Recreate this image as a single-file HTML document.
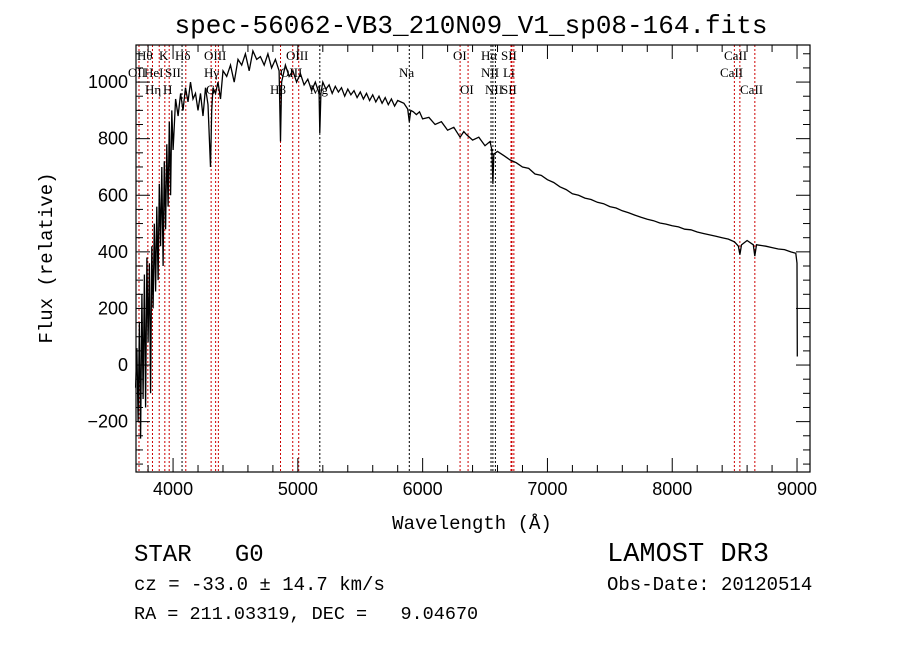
<!DOCTYPE html>
<html><head><meta charset="utf-8"><style>
body{margin:0;background:#fff;width:900px;height:649px;overflow:hidden}
svg text{font-family:"Liberation Serif",serif;white-space:pre}
</style></head><body>
<svg id="c" width="900" height="649" xmlns="http://www.w3.org/2000/svg" xml:space="preserve">
<text x="471" y="33" text-anchor="middle" font-size="26" style="font-family:'Liberation Mono',monospace">spec-56062-VB3_210N09_V1_sp08-164.fits</text>
<text x="52" y="258" text-anchor="middle" font-size="19" transform="rotate(-90 52 258)" style="font-family:'Liberation Mono',monospace">Flux (relative)</text>
<text x="472" y="529" text-anchor="middle" font-size="19" style="font-family:'Liberation Mono',monospace">Wavelength (Å)</text>
<g id="lines"></g><g id="spec"></g><g id="axes"></g>
<text x="134" y="561" font-size="24" style="font-family:'Liberation Mono',monospace">STAR   G0</text>
<text x="134" y="590" font-size="19" style="font-family:'Liberation Mono',monospace">cz = -33.0 ± 14.7 km/s</text>
<text x="134" y="619" font-size="18.5" style="font-family:'Liberation Mono',monospace">RA = 211.03319, DEC =   9.04670</text>
<text x="607" y="561" font-size="27" style="font-family:'Liberation Mono',monospace">LAMOST DR3</text>
<text x="607" y="590" font-size="19" style="font-family:'Liberation Mono',monospace">Obs-Date: 20120514</text>
</svg>
<script>
const wave=[3700,3710,3720,3730,3740,3750,3760,3770,3780,3790,3800,3810,3820,3830,3840,3850,3860,3870,3880,3890,3900,3910,3920,3930,3940,3950,3960,3970,3980,3990,4000,4020,4040,4060,4080,4100,4120,4140,4160,4180,4200,4220,4240,4260,4280,4300,4310,4320,4340,4360,4380,4400,4430,4460,4490,4520,4550,4580,4610,4640,4670,4700,4730,4760,4790,4820,4850,4861,4870,4900,4930,4960,4990,5020,5050,5080,5110,5140,5170,5176,5185,5200,5225,5250,5275,5300,5325,5350,5375,5400,5425,5450,5475,5500,5525,5550,5575,5600,5625,5650,5675,5700,5725,5750,5775,5800,5850,5880,5893,5905,5925,5950,5975,6000,6050,6100,6150,6200,6250,6300,6330,6350,6400,6450,6500,6540,6555,6563,6570,6600,6650,6700,6750,6800,6850,6900,6950,7000,7050,7100,7150,7200,7250,7300,7350,7400,7450,7500,7550,7600,7650,7700,7750,7800,7850,7900,7950,8000,8050,8100,8150,8200,8250,8300,8350,8400,8450,8500,8530,8542,8555,8600,8650,8662,8675,8750,8800,8850,8900,8950,8990,9000,9002];
const flux=[-80,60,-200,150,-260,250,-120,320,-150,380,80,360,-100,420,200,500,260,560,300,640,420,700,350,720,480,780,560,860,600,900,760,940,880,960,900,980,930,1000,940,960,900,960,880,980,920,700,900,980,960,1000,940,1040,1020,1060,1000,1080,1060,1100,1040,1110,1080,1090,1060,1100,1050,1080,1040,790,1000,1060,1020,1040,1000,1030,990,1010,970,1000,960,820,960,1000,975,990,960,985,965,980,950,975,955,970,945,965,940,960,935,955,930,950,925,945,920,940,915,935,925,905,860,900,895,885,895,870,875,850,860,830,840,805,825,815,795,805,775,790,760,640,745,755,740,725,715,700,695,675,670,655,645,630,620,605,600,590,585,575,570,560,555,545,538,530,522,515,510,502,498,492,488,480,478,470,465,460,455,450,445,435,420,390,425,440,425,385,425,420,415,410,408,400,395,360,30];
const lineWave=[3727,3798,3835,3889,3934,3969,4072,4102,4305,4341,4363,4861,4959,5007,5176,5893,6300,6364,6548,6563,6583,6708,6716,6731,8498,8542,8662];
const lineBlack=[0,0,0,0,0,0,1,0,0,0,0,0,0,0,1,1,0,0,1,1,1,0,0,0,0,0,0];
const lineLabels=[["OII",128,77],["Hθ",137,60],["Hη",145,94],["HeI",144,77],["K",159,60],["H",163,94],["SII",165,77],["Hδ",175,60],["G",206,94],["Hγ",204,77],["OIII",204,60],["Hβ",270,94],["OIII",286,60],["OIII",280,77],["Mg",310,94],["Na",399,77],["OI",453,60],["OI",460,94],["NII",481,77],["Hα",481,60],["NII",485,94],["Li",503,77],["SII",501,60],["SII",501,94],["CaII",724,60],["CaII",720,77],["CaII",740,94]];
const yTicks=[-200,0,200,400,600,800,1000];
const xTicks=[4000,5000,6000,7000,8000,9000];
const L=136,R=810,T=45,B=472,X0=3703,X1=9104,Y0=-378,Y1=1131;
const sx=w=>L+(w-X0)/(X1-X0)*(R-L);
const sy=f=>B-(f-Y0)/(Y1-Y0)*(B-T);
const NS="http://www.w3.org/2000/svg";
function mk(tag,at,par){const e=document.createElementNS(NS,tag);for(const k in at)e.setAttribute(k,at[k]);document.getElementById(par).appendChild(e);return e;}
lineWave.forEach((w,i)=>{const e=mk("line",{x1:sx(w),x2:sx(w),y1:T,y2:B,stroke:lineBlack[i]?"#000":"#c00","stroke-width":1,"stroke-dasharray":"2,2"},"lines");

});
lineLabels.forEach(l=>{const t=mk("text",{x:l[1],y:l[2],"font-size":13},"lines");t.textContent=l[0];

});
let d="";wave.forEach((w,i)=>{const y=Math.max(T,Math.min(B,sy(flux[i])));d+=(i?"L":"M")+sx(w).toFixed(1)+","+y.toFixed(1);});
const p=mk("path",{d:d,fill:"none",stroke:"#000","stroke-width":1.3},"spec");


const fr=mk("rect",{x:L,y:T,width:R-L,height:B-T,fill:"none",stroke:"#000","stroke-width":1.2},"axes");


for(let w=3800;w<=9100;w+=200){const big=w%1000===0;const x=sx(w);
mk("line",{x1:x,x2:x,y1:B,y2:B-(big?14:7),stroke:"#000"},"axes");mk("line",{x1:x,x2:x,y1:T,y2:T+(big?14:7),stroke:"#000"},"axes");}
for(let f=-350;f<=1100;f+=50){const big=f%200===0;const y=sy(f);
mk("line",{x1:L,x2:L+(big?14:7),y1:y,y2:y,stroke:"#000"},"axes");mk("line",{x1:R,x2:R-(big?14:7),y1:y,y2:y,stroke:"#000"},"axes");}
xTicks.forEach(w=>{const t=mk("text",{x:sx(w),y:B+23,"text-anchor":"middle","font-size":18,style:"font-family:'Liberation Sans',sans-serif"},"axes");t.textContent=w;

});
yTicks.forEach(f=>{const t=mk("text",{x:L-8,y:sy(f)+6,"text-anchor":"end","font-size":18,style:"font-family:'Liberation Sans',sans-serif"},"axes");t.textContent=f<0?"−"+(-f):f;

});
</script>
</body></html>
